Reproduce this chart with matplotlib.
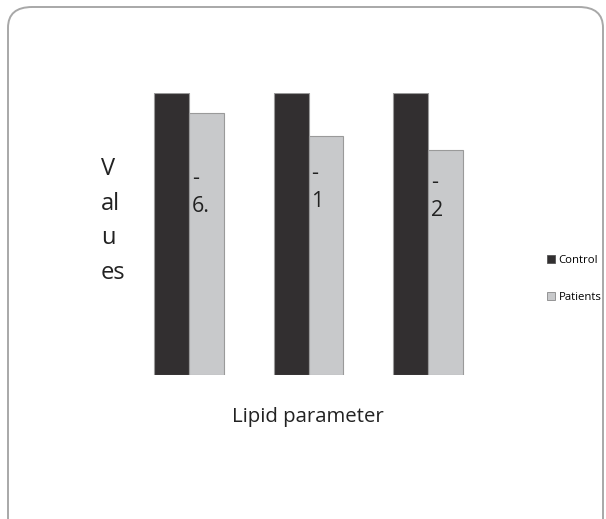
import matplotlib
matplotlib.use("Agg")
import matplotlib.pyplot as plt
from matplotlib.patches import FancyBboxPatch, Patch

# data (control bars normalised to 100)
groups = ["1", "2", "3"]
control = [100.0, 100.0, 100.0]
patients = [92.9, 84.8, 79.8]
bar_labels = ["-\n6.", "-\n1", "-\n2"]
label_y = [64.6, 66.6, 63.4]
series_names = ["Control", "Patients"]

DARK = "#322f30"
LIGHT = "#c8c9cb"
EDGE = "#9a9a9a"

plt.rcParams["font.family"] = ["Open Sans", "DejaVu Sans"]

fig = plt.figure(figsize=(6.06, 5.19), dpi=100)

# rounded frame around the whole chart
frame = FancyBboxPatch((8 / 606, -20 / 519), 595 / 606, (519 - 7 + 20) / 519,
                       boxstyle="round,pad=0,rounding_size=0.04",
                       transform=fig.transFigure, facecolor="none",
                       edgecolor="#a8a8a8", linewidth=1.4, zorder=0)
fig.patches.append(frame)

ax = fig.add_axes([129.25 / 606, (519 - 375) / 519, 358.5 / 606, 282 / 519])
w = 0.289
x = range(len(groups))
ax.bar([i - w / 2 for i in x], control, w, color=DARK, edgecolor=EDGE,
       linewidth=0.8, label=series_names[0])
ax.bar([i + w / 2 for i in x], patients, w, color=LIGHT, edgecolor=EDGE,
       linewidth=0.8, label=series_names[1])
for i, (lab, yy) in enumerate(zip(bar_labels, label_y)):
    ax.text(i + 0.022, yy, lab, ha="left", va="center", fontsize=15.5,
            color="#222222", linespacing=1.45)

ax.set_xlim(-0.5, 2.5)
ax.set_ylim(0, 100)
ax.set_xticks([])
ax.set_yticks([])
for s in ax.spines.values():
    s.set_visible(False)
ax.patch.set_alpha(0)

fig.text(101 / 606, 1 - 221 / 519, "V\nal\nu\nes", ha="left", va="center",
         fontsize=17, color="#222222", linespacing=1.6)
fig.text(308 / 606, 1 - 417 / 519, "Lipid parameter", ha="center",
         va="center", fontsize=14.7, color="#222222")

handles = [Patch(facecolor=DARK, edgecolor="#555555", linewidth=0.6),
           Patch(facecolor=LIGHT, edgecolor="#888888", linewidth=0.6)]
fig.legend(handles, series_names, loc="center left",
           bbox_to_anchor=(542 / 606, 1 - 279 / 519), frameon=False,
           fontsize=8.2, handlelength=0.75, handleheight=0.75,
           handletextpad=0.3, labelspacing=2.3, borderaxespad=0)

fig.savefig("out.png", dpi=100)
